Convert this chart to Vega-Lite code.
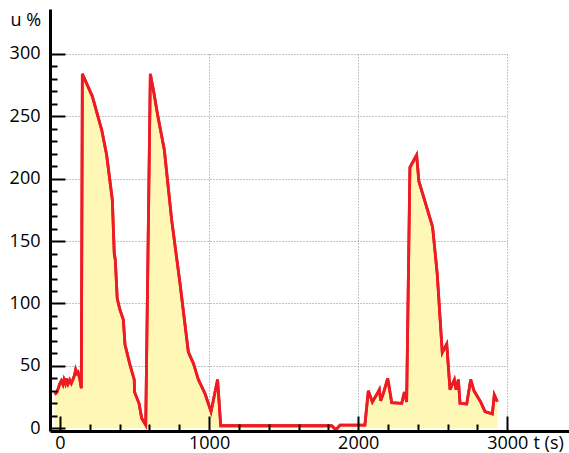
{
  "$schema": "https://vega.github.io/schema/vega-lite/v6.json",
  "width": 519,
  "height": 422,
  "autosize": {"type": "none"},
  "padding": {"left": 50, "top": 9, "right": 0, "bottom": 22},
  "config": {"view": {"stroke": null}, "font": "Open Sans"},
  "data": {"values": [
    {"t": -36, "u": 27}, {"t": -20, "u": 29}, {"t": -2, "u": 35.5}, {"t": 9, "u": 38},
    {"t": 20, "u": 35}, {"t": 27, "u": 39}, {"t": 36, "u": 36}, {"t": 42, "u": 40},
    {"t": 54, "u": 35.5}, {"t": 65, "u": 38.7}, {"t": 76, "u": 36}, {"t": 87, "u": 39},
    {"t": 98, "u": 42.7}, {"t": 105, "u": 47}, {"t": 114, "u": 44}, {"t": 121, "u": 45},
    {"t": 132, "u": 40}, {"t": 143, "u": 32}, {"t": 150, "u": 284}, {"t": 217, "u": 266},
    {"t": 280, "u": 239}, {"t": 313, "u": 219}, {"t": 351, "u": 183}, {"t": 364, "u": 140},
    {"t": 371, "u": 135}, {"t": 384, "u": 104}, {"t": 402, "u": 95}, {"t": 425, "u": 87},
    {"t": 436, "u": 67}, {"t": 469, "u": 51}, {"t": 498, "u": 39}, {"t": 500, "u": 29},
    {"t": 530, "u": 20}, {"t": 548, "u": 8}, {"t": 575, "u": 2.6}, {"t": 606, "u": 284},
    {"t": 628, "u": 270}, {"t": 655, "u": 251}, {"t": 700, "u": 223}, {"t": 749, "u": 167},
    {"t": 805, "u": 116}, {"t": 861, "u": 61}, {"t": 895, "u": 52}, {"t": 928, "u": 39},
    {"t": 972, "u": 28}, {"t": 1013, "u": 13.3}, {"t": 1057, "u": 39}, {"t": 1078, "u": 2},
    {"t": 1822, "u": 2}, {"t": 1851, "u": -1.3}, {"t": 1878, "u": 2.5}, {"t": 2045, "u": 2.5},
    {"t": 2068, "u": 30}, {"t": 2095, "u": 21}, {"t": 2124, "u": 27}, {"t": 2142, "u": 31},
    {"t": 2151, "u": 22}, {"t": 2169, "u": 28}, {"t": 2198, "u": 40}, {"t": 2225, "u": 20.5},
    {"t": 2292, "u": 20}, {"t": 2310, "u": 29}, {"t": 2325, "u": 21}, {"t": 2347, "u": 209},
    {"t": 2392, "u": 219}, {"t": 2407, "u": 198}, {"t": 2499, "u": 161.5}, {"t": 2530, "u": 124},
    {"t": 2564, "u": 60.6}, {"t": 2594, "u": 67.5}, {"t": 2616, "u": 31}, {"t": 2645, "u": 39},
    {"t": 2656, "u": 31}, {"t": 2672, "u": 39}, {"t": 2683, "u": 20}, {"t": 2728, "u": 19.5},
    {"t": 2755, "u": 39}, {"t": 2777, "u": 30}, {"t": 2822, "u": 21}, {"t": 2851, "u": 13.3},
    {"t": 2900, "u": 11.5}, {"t": 2913, "u": 26.7}, {"t": 2933, "u": 21.3}
  ]},
  "layer": [
    {
      "mark": {"type": "area", "color": "#FFF7B5", "opacity": 1},
      "encoding": {
        "x": {"field": "t", "type": "quantitative",
          "scale": {"domain": [-67, 3414], "nice": false, "zero": false},
          "axis": {"orient": "bottom", "values": [1000, 2000, 3000], "grid": true,
            "gridColor": "#8a8a8a", "gridDash": [1, 2], "gridWidth": 1,
            "labels": false, "ticks": false, "domain": false, "title": null, "zindex": 0,
            "encoding": {"grid": {"y": {"value": {"expr": "scale('y', 300) - height"}}, "y2": {"value": 0}}}}},
        "y": {"field": "u", "type": "quantitative",
          "scale": {"domain": [-2.2, 336], "nice": false, "zero": false},
          "axis": {"orient": "left", "values": [50, 100, 150, 200, 250, 300], "grid": true,
            "gridColor": "#8a8a8a", "gridDash": [1, 2], "gridWidth": 1,
            "labels": false, "ticks": false, "domain": false, "title": null, "zindex": 0,
            "encoding": {"grid": {"x": {"value": {"expr": "scale('x', 0)"}}, "x2": {"value": {"expr": "scale('x', 3000)"}}}}}}
      }
    },
    {
      "mark": {"type": "line", "color": "#ED1C24", "strokeWidth": 2.8},
      "encoding": {
        "x": {"field": "t", "type": "quantitative",
          "axis": {"orient": "bottom", "values": [0, 1000, 2000, 3000], "format": "d", "grid": false,
            "domain": true, "domainColor": "black", "domainWidth": 3,
            "ticks": true, "tickSize": -15, "tickWidth": 2, "tickColor": "black",
            "labels": true, "labelFont": "Open Sans", "labelFontSize": 18, "labelColor": "black",
            "labelBaseline": "alphabetic", "labelPadding": 32, "labelFlush": false, "labelOverlap": false,
            "title": "t (s)", "titleFont": "Open Sans", "titleFontSize": 18, "titleFontWeight": "normal",
            "titleColor": "black", "titleX": 483, "titleY": 17, "titleAlign": "left",
            "titleBaseline": "alphabetic", "titleAngle": 0, "zindex": 1}},
        "y": {"field": "u", "type": "quantitative",
          "axis": {"orient": "left", "values": [0, 50, 100, 150, 200, 250, 300], "format": "d", "grid": false,
            "domain": true, "domainColor": "black", "domainWidth": 3,
            "ticks": true, "tickSize": -15, "tickWidth": 2, "tickColor": "black",
            "labels": true, "labelFont": "Open Sans", "labelFontSize": 18, "labelColor": "black",
            "labelPadding": 25, "labelFlush": false, "labelOverlap": false,
            "title": "u %", "titleFont": "Open Sans", "titleFontSize": 18, "titleFontWeight": "normal",
            "titleColor": "black", "titleX": -40, "titleY": 16, "titleAlign": "left",
            "titleBaseline": "alphabetic", "titleAngle": 0, "zindex": 1}}
      }
    },
    {
      "mark": {"type": "line", "color": "#ED1C24", "strokeWidth": 2.8},
      "encoding": {
        "x": {"field": "t", "type": "quantitative",
          "axis": {"orient": "bottom", "values": [200, 400, 600, 800, 1200, 1400, 1600, 1800, 2200, 2400, 2600, 2800],
            "grid": false, "domain": false, "labels": false, "title": null,
            "ticks": true, "tickSize": -7, "tickWidth": 2, "tickColor": "black", "zindex": 1}},
        "y": {"field": "u", "type": "quantitative",
          "axis": {"orient": "left", "values": [10, 20, 30, 40, 60, 70, 80, 90, 110, 120, 130, 140, 160, 170, 180, 190, 210, 220, 230, 240, 260, 270, 280, 290],
            "grid": false, "domain": false, "labels": false, "title": null,
            "ticks": true, "tickSize": -7, "tickWidth": 2, "tickColor": "black", "zindex": 1}}
      }
    }
  ],
  "resolve": {"axis": {"x": "independent", "y": "independent"}}
}
